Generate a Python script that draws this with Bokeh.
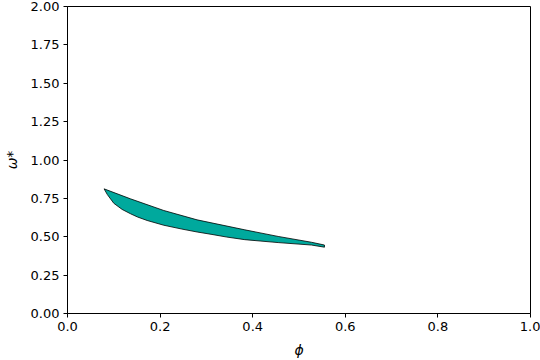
from bokeh.plotting import figure
from bokeh.embed import file_html
from bokeh.resources import INLINE
from bokeh.models import FixedTicker, Range1d, PrintfTickFormatter

# upper boundary (phi, omega*)
upper_phi = [0.079, 0.136, 0.208, 0.280, 0.383, 0.455, 0.527, 0.555]
upper_omega = [0.812, 0.747, 0.671, 0.610, 0.545, 0.502, 0.464, 0.446]
# lower boundary
lower_phi = [0.079, 0.086, 0.100, 0.118, 0.136, 0.151, 0.172, 0.208, 0.247, 0.280,
             0.312, 0.344, 0.383, 0.455, 0.527, 0.555]
lower_omega = [0.812, 0.775, 0.718, 0.678, 0.650, 0.629, 0.606, 0.575, 0.550, 0.531,
               0.515, 0.498, 0.481, 0.462, 0.446, 0.432]

x_ticks = [0.0, 0.2, 0.4, 0.6, 0.8, 1.0]
y_ticks = [0.0, 0.25, 0.5, 0.75, 1.0, 1.25, 1.5, 1.75, 2.0]

p = figure(width=540, height=360, output_backend="svg", toolbar_location=None,
           x_range=Range1d(0, 1), y_range=Range1d(0, 2),
           min_border_left=65, min_border_right=10, min_border_top=6, min_border_bottom=47)
p.xgrid.visible = False
p.ygrid.visible = False
p.outline_line_color = "black"
p.outline_line_alpha = 1.0
p.outline_line_width = 1

xs = upper_phi + lower_phi[::-1]
ys = upper_omega + lower_omega[::-1]
p.patch(xs, ys, fill_color="#00a99d", line_color="black", line_width=0.8)

for ax in (p.xaxis[0], p.yaxis[0]):
    ax.major_tick_out = 4
    ax.major_tick_in = 0
    ax.minor_tick_out = 0
    ax.minor_tick_in = 0
    ax.axis_line_color = "black"
    ax.major_label_text_font = "DejaVu Sans"
    ax.major_label_text_font_size = "13px"
    ax.major_label_text_color = "black"
    ax.axis_label_text_font = "DejaVu Sans"
    ax.axis_label_text_font_size = "14px"
    ax.axis_label_text_font_style = "italic"
    ax.axis_label_text_color = "black"

p.xaxis.ticker = FixedTicker(ticks=x_ticks)
p.yaxis.ticker = FixedTicker(ticks=y_ticks)
p.xaxis.formatter = PrintfTickFormatter(format="%.1f")
p.yaxis.formatter = PrintfTickFormatter(format="%.2f")
p.xaxis.axis_label = "ϕ"
p.yaxis.axis_label = "ω*"
p.xaxis.major_label_standoff = 4
p.yaxis.major_label_standoff = 4
p.xaxis.axis_label_standoff = 8
p.yaxis.axis_label_standoff = 8

open("out.html", "w").write(file_html(p, INLINE))
